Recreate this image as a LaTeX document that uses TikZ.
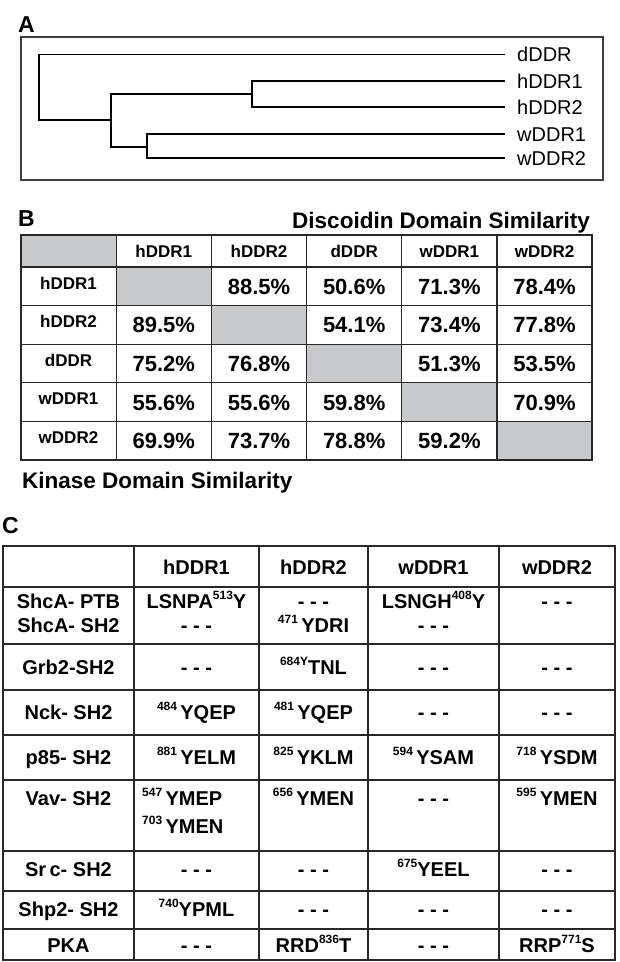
\documentclass[tikz,border=0pt]{standalone}
\usepackage{fontspec}
\setmainfont{Liberation Sans}
\definecolor{cellgray}{RGB}{200,201,203}
\definecolor{rulegray}{RGB}{40,40,40}
\newcommand{\fsz}[1]{\fontsize{#1}{#1}\selectfont}
\newcommand{\sps}[1]{\raisebox{0.42em}{\fontsize{12}{12}\selectfont #1}}
\newcommand{\nores}{- - -}
\begin{document}
\begin{tikzpicture}[x=1pt,y=-1pt]
\tikzstyle{panel}= [font=\fsz{23}\bfseries,anchor=base west,inner sep=0pt]
\tikzstyle{title}= [font=\fsz{22.5}\bfseries,inner sep=0pt]
\tikzstyle{leaf}= [font=\fsz{20},anchor=west,inner xsep=12pt,inner ysep=0pt,text height=14.3pt,text depth=0pt]
\tikzstyle{tree}= [line width=1.3pt]
\tikzstyle{hd}= [font=\fsz{17}\bfseries,inner sep=0pt,text height=12.2pt,text depth=0pt]
\tikzstyle{val}= [font=\fsz{22}\bfseries,inner sep=0pt,text height=15.8pt,text depth=0pt]
\tikzstyle{cell}= [font=\fsz{20}\bfseries,inner sep=0pt,text height=14.3pt,text depth=0pt]
\tikzstyle{rule}= [line width=1.2pt,rulegray]
\tikzstyle{frame}= [line width=2.8pt,rulegray]

\useasboundingbox (0,0) rectangle (620,962);

% A
\node[panel] (lA) at (18,32) {A};
\draw[line width=1.5pt,black!75] (21,37) rectangle (603,180);
\path
	(505, 54.5) node[leaf] (dDDR) {dDDR}
	(505, 81) node[leaf] (hDDR1) {hDDR1}
	(505,107) node[leaf] (hDDR2) {hDDR2}
	(505,134) node[leaf] (wDDR1) {wDDR1}
	(505,158) node[leaf] (wDDR2) {wDDR2}
;
\coordinate (j1) at (39,120);
\coordinate (j2) at (111,120);
\coordinate (j3) at (252,94);
\coordinate (j4) at (147,147);
\draw[tree] (dDDR.west) -| (j1) -- (j2);
\draw[tree] (j3) -| (j2);
\draw[tree] (j4) -| (j2);
\draw[tree] (hDDR1.west) -| (j3) |- (hDDR2.west);
\draw[tree] (wDDR1.west) -| (j4) |- (wDDR2.west);

% B
\node[panel] (lB) at (18,226) {B};
\node[title,anchor=base east] (tDisc) at (590,228) {Discoidin Domain Similarity};
\fill[cellgray] (21,235) rectangle (116,267);
\foreach \i in {1,...,5}
	\fill[cellgray] ({21+95.2*\i},{267+38.6*(\i-1)}) rectangle +(95.2,38.6);
\foreach \i in {1,...,5}
	\draw[rule] ({21+95.2*\i},235) -- +(0,225);
\foreach \i in {0,...,4}
	\draw[rule] (21,{267+38.6*\i}) -- (592,{267+38.6*\i});
\draw[frame] (21,235) rectangle (592,460);
\foreach \n [count=\i] in {hDDR1,hDDR2,dDDR,wDDR1,wDDR2} {
	\node[hd] (colB\i) at ({21+95.2*\i+47.6},251) {\n};
	\node[hd] (rowB\i) at (68.5,{267+38.6*(\i-1)+16}) {\n};
}
\foreach \r/\c/\v in {1/2/88.5,1/3/50.6,1/4/71.3,1/5/78.4,
		2/1/89.5,2/3/54.1,2/4/73.4,2/5/77.8,
		3/1/75.2,3/2/76.8,3/4/51.3,3/5/53.5,
		4/1/55.6,4/2/55.6,4/3/59.8,4/5/70.9,
		5/1/69.9,5/2/73.7,5/3/78.8,5/4/59.2}
	\node[val] (vB\r\c) at ({21+95.2*\c+47.6},{267+38.6*(\r-1)+19.3}) {\v\%};
\node[title,anchor=base west] (tKin) at (22,488) {Kinase Domain Similarity};

% C
\node[panel] (lC) at (2,533) {C};
\foreach \x in {134,259,368,499}
	\draw[rule] (\x,546) -- (\x,960);
\foreach \y in {587,644,690,735,780,851,891,929}
	\draw[rule] (3,\y) -- (615,\y);
\draw[frame] (3,546) rectangle (615,960);
\path
	(196.5,567) node[cell] (hC1) {hDDR1}
	(313.5,567) node[cell] (hC2) {hDDR2}
	(433.5,567) node[cell] (hC3) {wDDR1}
	(557,567) node[cell] (hC4) {wDDR2}
	(68.5,601) node[cell] (shcPTB) {ShcA- PTB}
	(68.5,625) node[cell] (shcSH2) {ShcA- SH2}
	(196.5,601) node[cell] (shc11) {LSNPA\sps{513}Y}
	(196.5,625) node[cell] (shc12) {\nores}
	(313.5,601) node[cell] (shc21) {\nores}
	(313.5,625) node[cell] (shc22) {\sps{471}\,YDRI}
	(433.5,601) node[cell] (shc31) {LSNGH\sps{408}Y}
	(433.5,625) node[cell] (shc32) {\nores}
	(557,601) node[cell] (shc41) {\nores}
	(68.5,667) node[cell] (grb) {Grb2-SH2}
	(196.5,667) node[cell] (grb1) {\nores}
	(313.5,667) node[cell] (grb2) {\sps{684Y}TNL}
	(433.5,667) node[cell] (grb3) {\nores}
	(557,667) node[cell] (grb4) {\nores}
	(68.5,712) node[cell] (nck) {Nck- SH2}
	(196.5,712) node[cell] (nck1) {\sps{484}\,YQEP}
	(313.5,712) node[cell] (nck2) {\sps{481}\,YQEP}
	(433.5,712) node[cell] (nck3) {\nores}
	(557,712) node[cell] (nck4) {\nores}
	(68.5,757) node[cell] (pef) {p85- SH2}
	(196.5,757) node[cell] (pef1) {\sps{881}\,YELM}
	(313.5,757) node[cell] (pef2) {\sps{825}\,YKLM}
	(433.5,757) node[cell] (pef3) {\sps{594}\,YSAM}
	(557,757) node[cell] (pef4) {\sps{718}\,YSDM}
	(68.5,798) node[cell] (vav) {Vav- SH2}
	(142,798) node[cell,anchor=west] (vav1a) {\sps{547}\,YMEP}
	(142,826) node[cell,anchor=west] (vav1b) {\sps{703}\,YMEN}
	(313.5,798) node[cell] (vav2) {\sps{656}\,YMEN}
	(433.5,798) node[cell] (vav3) {\nores}
	(557,798) node[cell] (vav4) {\sps{595}\,YMEN}
	(68.5,869) node[cell] (src) {Sr\,c- SH2}
	(196.5,869) node[cell] (src1) {\nores}
	(313.5,869) node[cell] (src2) {\nores}
	(433.5,869) node[cell] (src3) {\sps{675}YEEL}
	(557,869) node[cell] (src4) {\nores}
	(68.5,909) node[cell] (shp) {Shp2- SH2}
	(196.5,909) node[cell] (shp1) {\sps{740}YPML}
	(313.5,909) node[cell] (shp2) {\nores}
	(433.5,909) node[cell] (shp3) {\nores}
	(557,909) node[cell] (shp4) {\nores}
	(68.5,945) node[cell] (pka) {PKA}
	(196.5,945) node[cell] (pka1) {\nores}
	(313.5,945) node[cell] (pka2) {RRD\sps{836}T}
	(433.5,945) node[cell] (pka3) {\nores}
	(557,945) node[cell] (pka4) {RRP\sps{771}S}
;
\end{tikzpicture}
\end{document}
